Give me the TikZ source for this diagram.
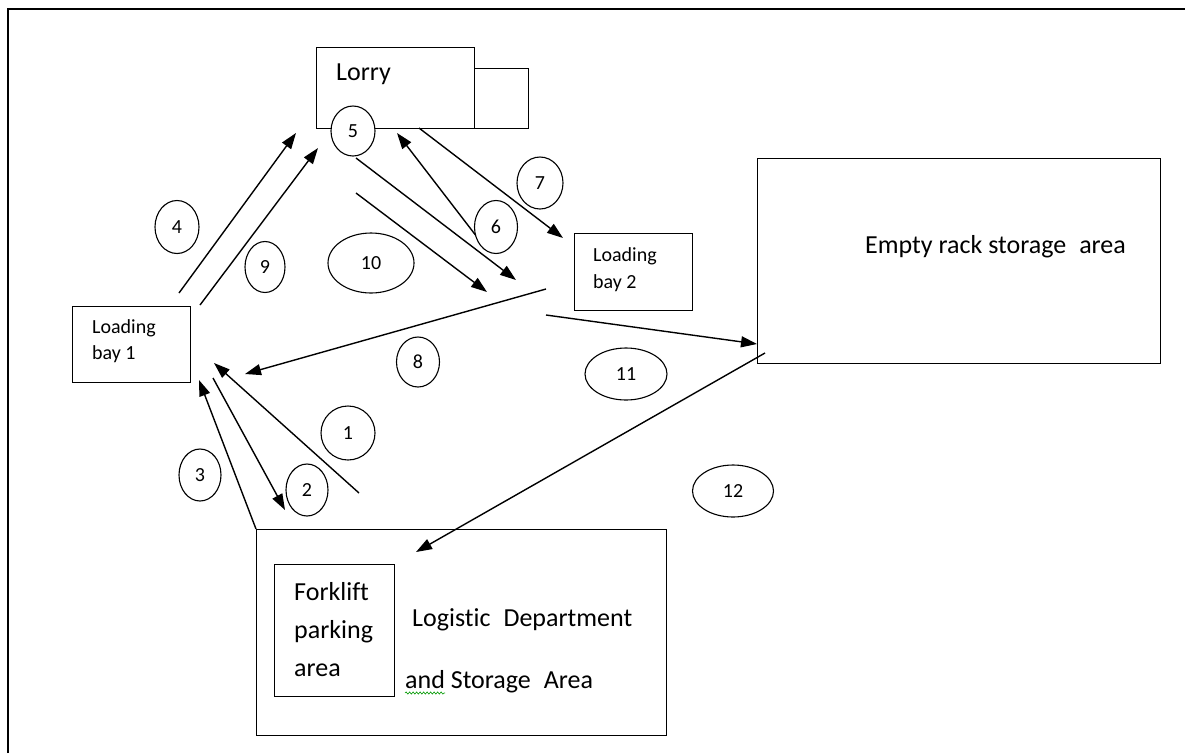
\documentclass[tikz,border=0pt]{standalone}
\usepackage{fontspec}
\setmainfont{Carlito}[Ligatures=NoCommon]
\usetikzlibrary{arrows.meta,shapes.geometric,decorations.pathmorphing}
\begin{document}
\begin{tikzpicture}[x=1pt,y=-1pt,
  box/.style={draw,line width=1.3pt,inner sep=0pt,anchor=north west},
  num/.style={draw,ellipse,fill=white,line width=1.1pt,inner sep=0pt,font=\fontsize{20}{22}\selectfont},
  lbl/.style={inner sep=0pt,anchor=west,align=left},
  big/.style={font=\fontsize{26}{30}\selectfont},
  small/.style={font=\fontsize{20}{28}\selectfont},
  flow/.style={line width=1.4pt,-{Triangle[length=16pt,width=11pt]}}
]
\useasboundingbox (0,0) rectangle (1185,753);
\fill[white] (0,0) rectangle (1185,753);
% outer frame
\draw[line width=2pt] (8,753) -- (8,9) -- (1185,9);

% boxes
\node[box,minimum width=158pt,minimum height=81pt] (lorry) at (316,47) {};
\node[box,minimum width=54pt,minimum height=60pt] (cab) at (474,68) {};
\node[lbl,big] (lorrytxt) at (336,74) {Lorry};

\node[box,minimum width=118pt,minimum height=76pt] (bay1) at (72,306) {};
\node[lbl,small] (bay1a) at (92,328) {Loading};
\node[lbl,small] (bay1b) at (92,354) {bay 1};

\node[box,minimum width=118pt,minimum height=77pt] (bay2) at (574,233) {};
\node[lbl,small] (bay2a) at (593,256) {Loading};
\node[lbl,small] (bay2b) at (593,283) {bay 2};

\node[box,minimum width=403pt,minimum height=205pt] (rack) at (757,158) {};
\node[lbl,big] (racktxt) at (865,247) {Empty rack storage\,\,\,area};

\node[box,minimum width=410pt,minimum height=206pt] (logi) at (256,529) {};
\node[box,minimum width=120pt,minimum height=132pt] (fork) at (274,564) {};
\node[lbl,big] (fork1) at (294,592) {Forklift};
\node[lbl,big] (fork2) at (294,632) {parking};
\node[lbl,big] (fork3) at (294,670) {area};
\node[lbl,big] (logi1) at (412,620) {Logistic\,\,\,Department};
\node[lbl,big] (logi2) at (405,682) {and Storage\,\,\,Area};
\draw[green!60!black,line width=0.6pt,decorate,decoration={snake,amplitude=1.1pt,segment length=3.5pt}] (405,693) -- (445,693);

% arrow end points
\coordinate (a4s) at (179,293);  \coordinate (a4e) at (296,133);
\coordinate (a9s) at (200,305);  \coordinate (a9e) at (318,148);
\coordinate (a5s) at (356,158);  \coordinate (a5e) at (516,280);
\coordinate (a10s) at (356,193); \coordinate (a10e) at (487,292);
\coordinate (a6s) at (477,237);  \coordinate (a6e) at (397,133);
\coordinate (a7s) at (419,128);  \coordinate (a7e) at (563,238);
\coordinate (a8s) at (546,289);  \coordinate (a8e) at (245,374);
\coordinate (a11s) at (546,315); \coordinate (a11e) at (757,344);
\coordinate (a12s) at (765,353); \coordinate (a12e) at (416,552);
\coordinate (a1s) at (359,493);  \coordinate (a1e) at (214,363);
\coordinate (a2s) at (213,378);  \coordinate (a2e) at (285,510);
\coordinate (a3s) at (256,529);  \coordinate (a3e) at (199,380);

\draw[flow] (a4s) -- (a4e);
\draw[flow] (a9s) -- (a9e);
\draw[flow] (a5s) -- (a5e);
\draw[flow] (a10s) -- (a10e);
\draw[flow] (a6s) -- (a6e);
\draw[flow] (a7s) -- (a7e);
\draw[flow] (a8s) -- (a8e);
\draw[flow] (a11s) -- (a11e);
\draw[flow] (a12s) -- (a12e);
\draw[flow] (a1s) -- (a1e);
\draw[flow] (a2s) -- (a2e);
\draw[flow] (a3s) -- (a3e);

% number ellipses
\node[num,minimum width=54pt,minimum height=54pt] (n1) at (348,433) {1};
\node[num,minimum width=42pt,minimum height=52pt] (n2) at (307,490) {2};
\node[num,minimum width=42pt,minimum height=52pt] (n3) at (200,475) {3};
\node[num,minimum width=44pt,minimum height=53pt] (n4) at (177,227) {4};
\node[num,minimum width=44pt,minimum height=50pt] (n5) at (353,131) {5};
\node[num,minimum width=43pt,minimum height=53pt] (n6) at (496,227) {6};
\node[num,minimum width=46pt,minimum height=52pt] (n7) at (540,183) {7};
\node[num,minimum width=43pt,minimum height=50pt] (n8) at (418,362) {8};
\node[num,minimum width=40pt,minimum height=51pt] (n9) at (265,267) {9};
\node[num,minimum width=86pt,minimum height=60pt] (n10) at (371,263) {10};
\node[num,minimum width=82pt,minimum height=52pt] (n11) at (626,374) {11};
\node[num,minimum width=81pt,minimum height=52pt] (n12) at (733,491) {12};
\end{tikzpicture}
\end{document}
